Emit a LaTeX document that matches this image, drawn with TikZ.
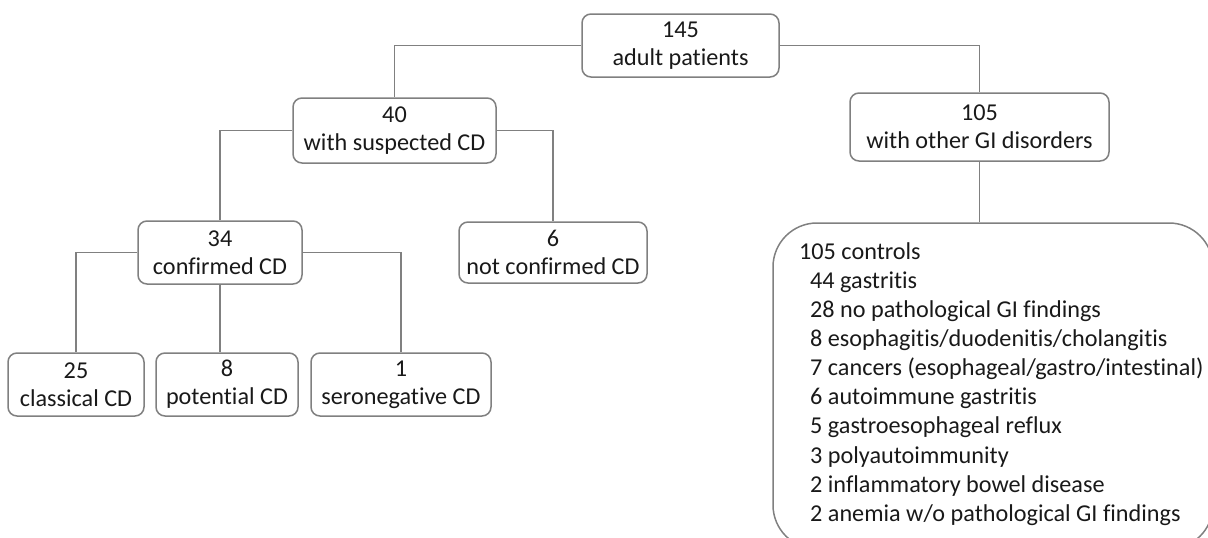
\documentclass[tikz,border=0pt]{standalone}
\usepackage{fontspec}
\setmainfont{Carlito}[Ligatures=NoCommon]
\usepackage{xcolor}
\usetikzlibrary{positioning}
\definecolor{linegray}{RGB}{128,128,128}
\definecolor{textdark}{RGB}{25,25,25}

\begin{document}
\begin{tikzpicture}[x=1pt, y=1pt,
        box/.style={draw=linegray, line width=1.5pt, rounded corners=9pt,
                    align=center, inner sep=0pt, text=textdark,
                    font=\fontsize{24.2}{28}\selectfont, minimum height=63pt},
        listbox/.style={draw=linegray, line width=1.5pt, rounded corners=44pt},
        listtext/.style={align=left, inner sep=0pt, text=textdark,
                    font=\fontsize{24.2}{29.1}\selectfont},
        link/.style={draw=linegray, line width=1.5pt},
    ]
        \useasboundingbox (0,0) rectangle (1208,-538);

        % Level 1: all patients
        \node[box, minimum width=197pt] (all)  at (680.5,-45.5) {145\\adult patients};

        % Level 2: suspected CD / other GI disorders
        \node[box, minimum width=203pt, minimum height=65pt] (susp) at (394.5,-130.5) {40\\with suspected CD};
        \node[box, minimum width=259pt, minimum height=68pt] (other) at (979.5,-127) {105\\with other GI disorders};

        % Level 3: confirmed / not confirmed
        \node[box, minimum width=164pt] (conf)  at (220,-252.5) {34\\confirmed CD};
        \node[box, minimum width=188pt, minimum height=61pt] (nconf) at (553,-252.5) {6\\not confirmed CD};

        % Level 4: CD subtypes
        \node[box, minimum width=136pt] (class) at (76,-384.5)  {25\\classical CD};
        \node[box, minimum width=142pt] (poten) at (227,-384.5) {8\\potential CD};
        \node[box, minimum width=180pt] (seron) at (401,-384.5) {1\\seronegative CD};

        % Controls list (runs past the page edge)
        \node[listbox, minimum width=440pt, minimum height=326pt] (ctrl) at (993,-386) {};
        \node[listtext, anchor=west] (ctrllist) at (799,-384) {105 controls\\
            \hspace*{11pt}44 gastritis\\
            \hspace*{11pt}28 no pathological GI findings\\
            \hspace*{11pt}8 esophagitis/duodenitis/cholangitis\\
            \hspace*{11pt}7 cancers (esophageal/gastro/intestinal)\\
            \hspace*{11pt}6 autoimmune gastritis\\
            \hspace*{11pt}5 gastroesophageal reflux\\
            \hspace*{11pt}3 polyautoimmunity\\
            \hspace*{11pt}2 inflammatory bowel disease\\
            \hspace*{11pt}2 anemia w/o pathological GI findings};

        % Connectors
        \draw[link] (all.west)  -| (susp.north);
        \draw[link] (all.east)  -| (other.north);
        \draw[link] (susp.west) -| (conf.north);
        \draw[link] (susp.east) -| (nconf.north);
        \draw[link] (conf.west) -| (class.north);
        \draw[link] (conf.south) -- (conf.south |- poten.north);
        \draw[link] (conf.east) -| (seron.north);
        \draw[link] (other.south) -- (other.south |- ctrl.north);
    \end{tikzpicture}
\end{document}
